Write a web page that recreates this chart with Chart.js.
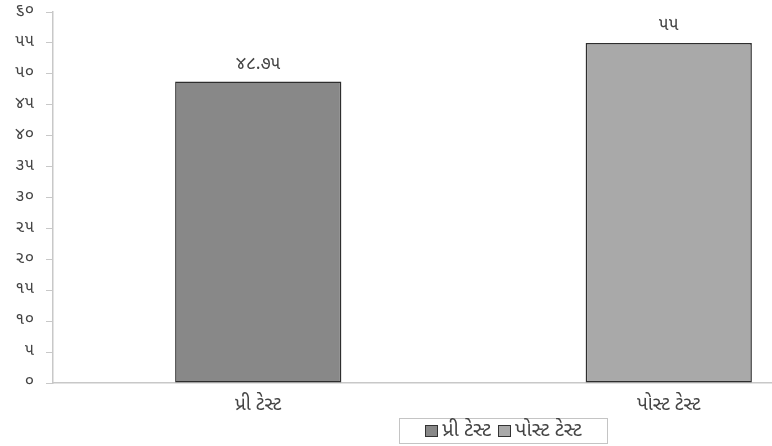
<!DOCTYPE html>
<html>
<head>
<meta charset="utf-8">
<script src="https://cdn.jsdelivr.net/npm/chart.js@4.4.1/dist/chart.umd.min.js"></script>
<style>
  html, body { margin: 0; padding: 0; background: #fff; overflow: hidden; }
  #wrap { position: relative; width: 772px; height: 446px; overflow: hidden; }
  #box { position: absolute; left: 0; top: 0; width: 880px; height: 446px; }
  #legend {
    position: absolute; left: 399px; top: 418px; height: 26px; width: 209px;
    border: 1px solid #c4c4c4; background: #fff; box-sizing: border-box;
    display: flex; align-items: center; justify-content: center;
    font-family: "Noto Sans Gujarati", "Noto Sans", "DejaVu Sans", sans-serif;
    font-size: 20px; line-height: 22px; color: #444; white-space: nowrap;
  }
  #legend .item { display: flex; align-items: center; margin-right: 7px; }
  #legend .item:last-child { margin-right: 0; }
  #legend .sw { width: 11px; height: 10px; border: 1px solid #333; margin-right: 4px; }
</style>
</head>
<body>
<div id="wrap">
  <div id="box"><canvas id="c"></canvas></div>
  <div id="legend"></div>
</div>
<script>
const categories = ['પ્રી ટેસ્ટ', 'પોસ્ટ ટેસ્ટ'];
const values = [48.75, 55];
const barColors = ['#888888', '#a9a9a9'];
const gujDigits = ['૦', '૧', '૨', '૩', '૪', '૫', '૬', '૭', '૮', '૯'];
const yMin = 0, yMax = 60, yStep = 5;

const FONT = '"Noto Sans Gujarati", "Noto Sans", "DejaVu Sans", sans-serif';

function toGuj(v) {
  return String(v).replace(/[0-9]/g, function (d) { return gujDigits[+d]; });
}

const valueLabels = {
  id: 'valueLabels',
  afterDatasetsDraw(chart) {
    const ctx = chart.ctx;
    const meta = chart.getDatasetMeta(0);
    ctx.save();
    ctx.fillStyle = '#444';
    ctx.font = '18px ' + FONT;
    ctx.textAlign = 'center';
    ctx.textBaseline = 'middle';
    meta.data.forEach(function (bar, i) {
      ctx.fillText(toGuj(values[i]), bar.x, bar.y - 16);
    });
    ctx.restore();
  }
};

new Chart(document.getElementById('c'), {
  type: 'bar',
  data: {
    labels: categories,
    datasets: [{
      label: 'series',
      data: values,
      backgroundColor: barColors,
      borderColor: '#2e2e2e',
      borderWidth: 1.5,
      borderSkipped: false,
      categoryPercentage: 1,
      barPercentage: 0.405
    }]
  },
  options: {
    responsive: true,
    maintainAspectRatio: false,
    animation: false,
    layout: { padding: { top: 12, right: 6, bottom: 0, left: 0 } },
    plugins: { legend: { display: false }, tooltip: { enabled: false } },
    scales: {
      x: {
        grid: { display: false },
        border: { display: true, color: '#c8c8c8', width: 1.5 },
        ticks: { color: '#444', font: { family: FONT, size: 19 }, padding: 4 },
        afterFit: function (axis) { axis.height = 63; axis.paddingLeft = 0; axis.paddingRight = 0; }
      },
      y: {
        min: yMin,
        max: yMax,
        grid: { display: true, drawOnChartArea: false, drawTicks: true, tickLength: 7, color: '#c8c8c8', lineWidth: 1 },
        border: { display: true, color: '#c8c8c8', width: 1.5 },
        ticks: {
          stepSize: yStep,
          color: '#444',
          font: { family: FONT, size: 17 },
          padding: 12,
          callback: function (v) { return toGuj(v); }
        },
        afterFit: function (axis) { axis.width = 53; axis.paddingTop = 0; axis.paddingBottom = 0; }
      }
    }
  },
  plugins: [valueLabels]
});

const legend = document.getElementById('legend');
categories.forEach(function (name, i) {
  const item = document.createElement('div');
  item.className = 'item';
  const sw = document.createElement('span');
  sw.className = 'sw';
  sw.style.background = barColors[i];
  const txt = document.createElement('span');
  txt.textContent = name;
  item.appendChild(sw);
  item.appendChild(txt);
  legend.appendChild(item);
});
</script>
</body>
</html>
